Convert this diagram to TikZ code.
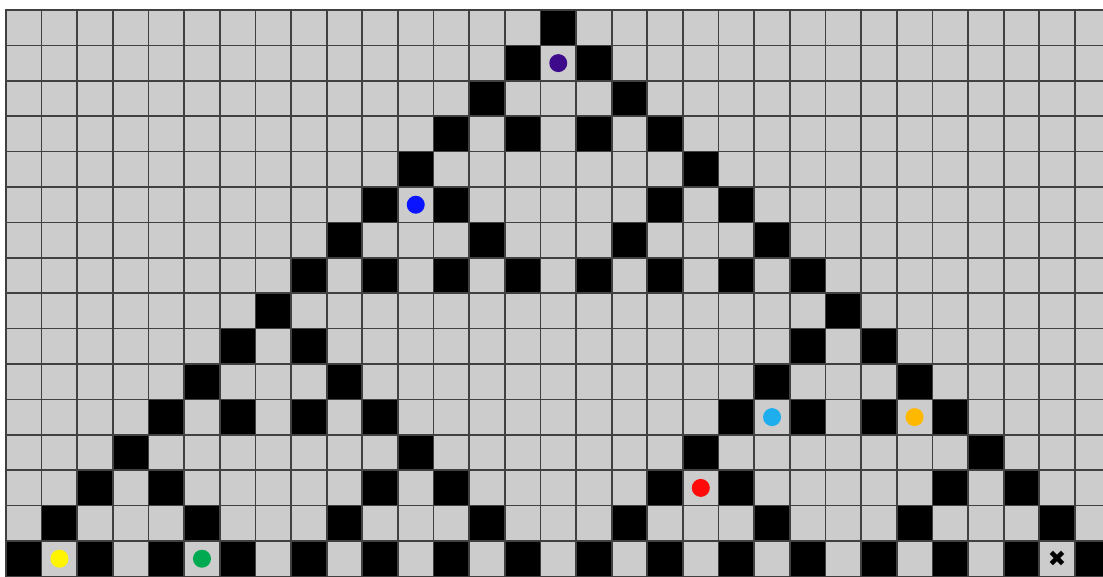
\documentclass[tikz,border=0pt]{standalone}
\usepackage{fontspec}
\newfontfamily\symfont{DejaVu Sans}
\definecolor{cellgray}{HTML}{CCCCCC}
\definecolor{gridc}{HTML}{404040}
\definecolor{dpurple}{HTML}{3D0A8C}
\definecolor{dblue}{HTML}{0A14FF}
\definecolor{dcyan}{HTML}{1EAEEE}
\definecolor{dorange}{HTML}{FFB800}
\definecolor{dred}{HTML}{FF0A0A}
\definecolor{dyellow}{HTML}{FFF500}
\definecolor{dgreen}{HTML}{00AA50}
\tikzset{
  gridline/.style={draw=gridc, line width=1.7pt},
  dot/.style={circle, inner sep=0pt, minimum size=18pt, draw=none}
}
\begin{document}
\begin{tikzpicture}[x=1pt,y=-1pt]
\useasboundingbox (0,0) rectangle (1103,576);
\clip (0,0) rectangle (1103,576);
\def\cw{35.63}
\def\ch{35.4}
\def\ox{6}
\def\oy{10}
\fill[cellgray] (\ox,\oy) rectangle (1112,577);
\foreach \r/\cols in {0/{15},1/{14,16},2/{13,17},3/{12,14,16,18},4/{11,19},5/{10,12,18,20},6/{9,13,17,21},7/{8,10,12,14,16,18,20,22},8/{7,23},9/{6,8,22,24},10/{5,9,21,25},11/{4,6,8,10,20,22,24,26},12/{3,11,19,27},13/{2,4,10,12,18,20,26,28},14/{1,5,9,13,17,21,25,29},15/{0,2,4,6,8,10,12,14,16,18,20,22,24,26,28,30}}{
  \foreach \c in \cols {
    \fill[black] (\ox+\c*\cw,\oy+\r*\ch) rectangle ++(\cw,\ch);
  }
}
\foreach \i in {0,...,31}{
  \draw[gridline] (\ox+\i*\cw,\oy) -- (\ox+\i*\cw,577);
}
\foreach \j in {0,...,16}{
  \draw[gridline] (\ox,\oy+\j*\ch) -- (1112,\oy+\j*\ch);
}
\draw[draw=gridc, line width=2.4pt] (\ox,577) -- (\ox,\oy) -- (1112,\oy);
\node[dot, fill=dpurple] (purpledot) at (\ox+15.5*\cw,\oy+1.5*\ch) {};
\node[dot, fill=dblue] (bluedot) at (\ox+11.5*\cw,\oy+5.5*\ch) {};
\node[dot, fill=dcyan] (cyandot) at (\ox+21.5*\cw,\oy+11.5*\ch) {};
\node[dot, fill=dorange] (orangedot) at (\ox+25.5*\cw,\oy+11.5*\ch) {};
\node[dot, fill=dred] (reddot) at (\ox+19.5*\cw,\oy+13.5*\ch) {};
\node[dot, fill=dyellow] (yellowdot) at (\ox+1.5*\cw,\oy+15.5*\ch) {};
\node[dot, fill=dgreen] (greendot) at (\ox+5.5*\cw,\oy+15.5*\ch) {};
\node[inner sep=0pt] (crossmark) at (\ox+29.5*\cw,\oy+15.5*\ch) {\symfont\fontsize{22}{22}\selectfont ✖};
\end{tikzpicture}
\end{document}
